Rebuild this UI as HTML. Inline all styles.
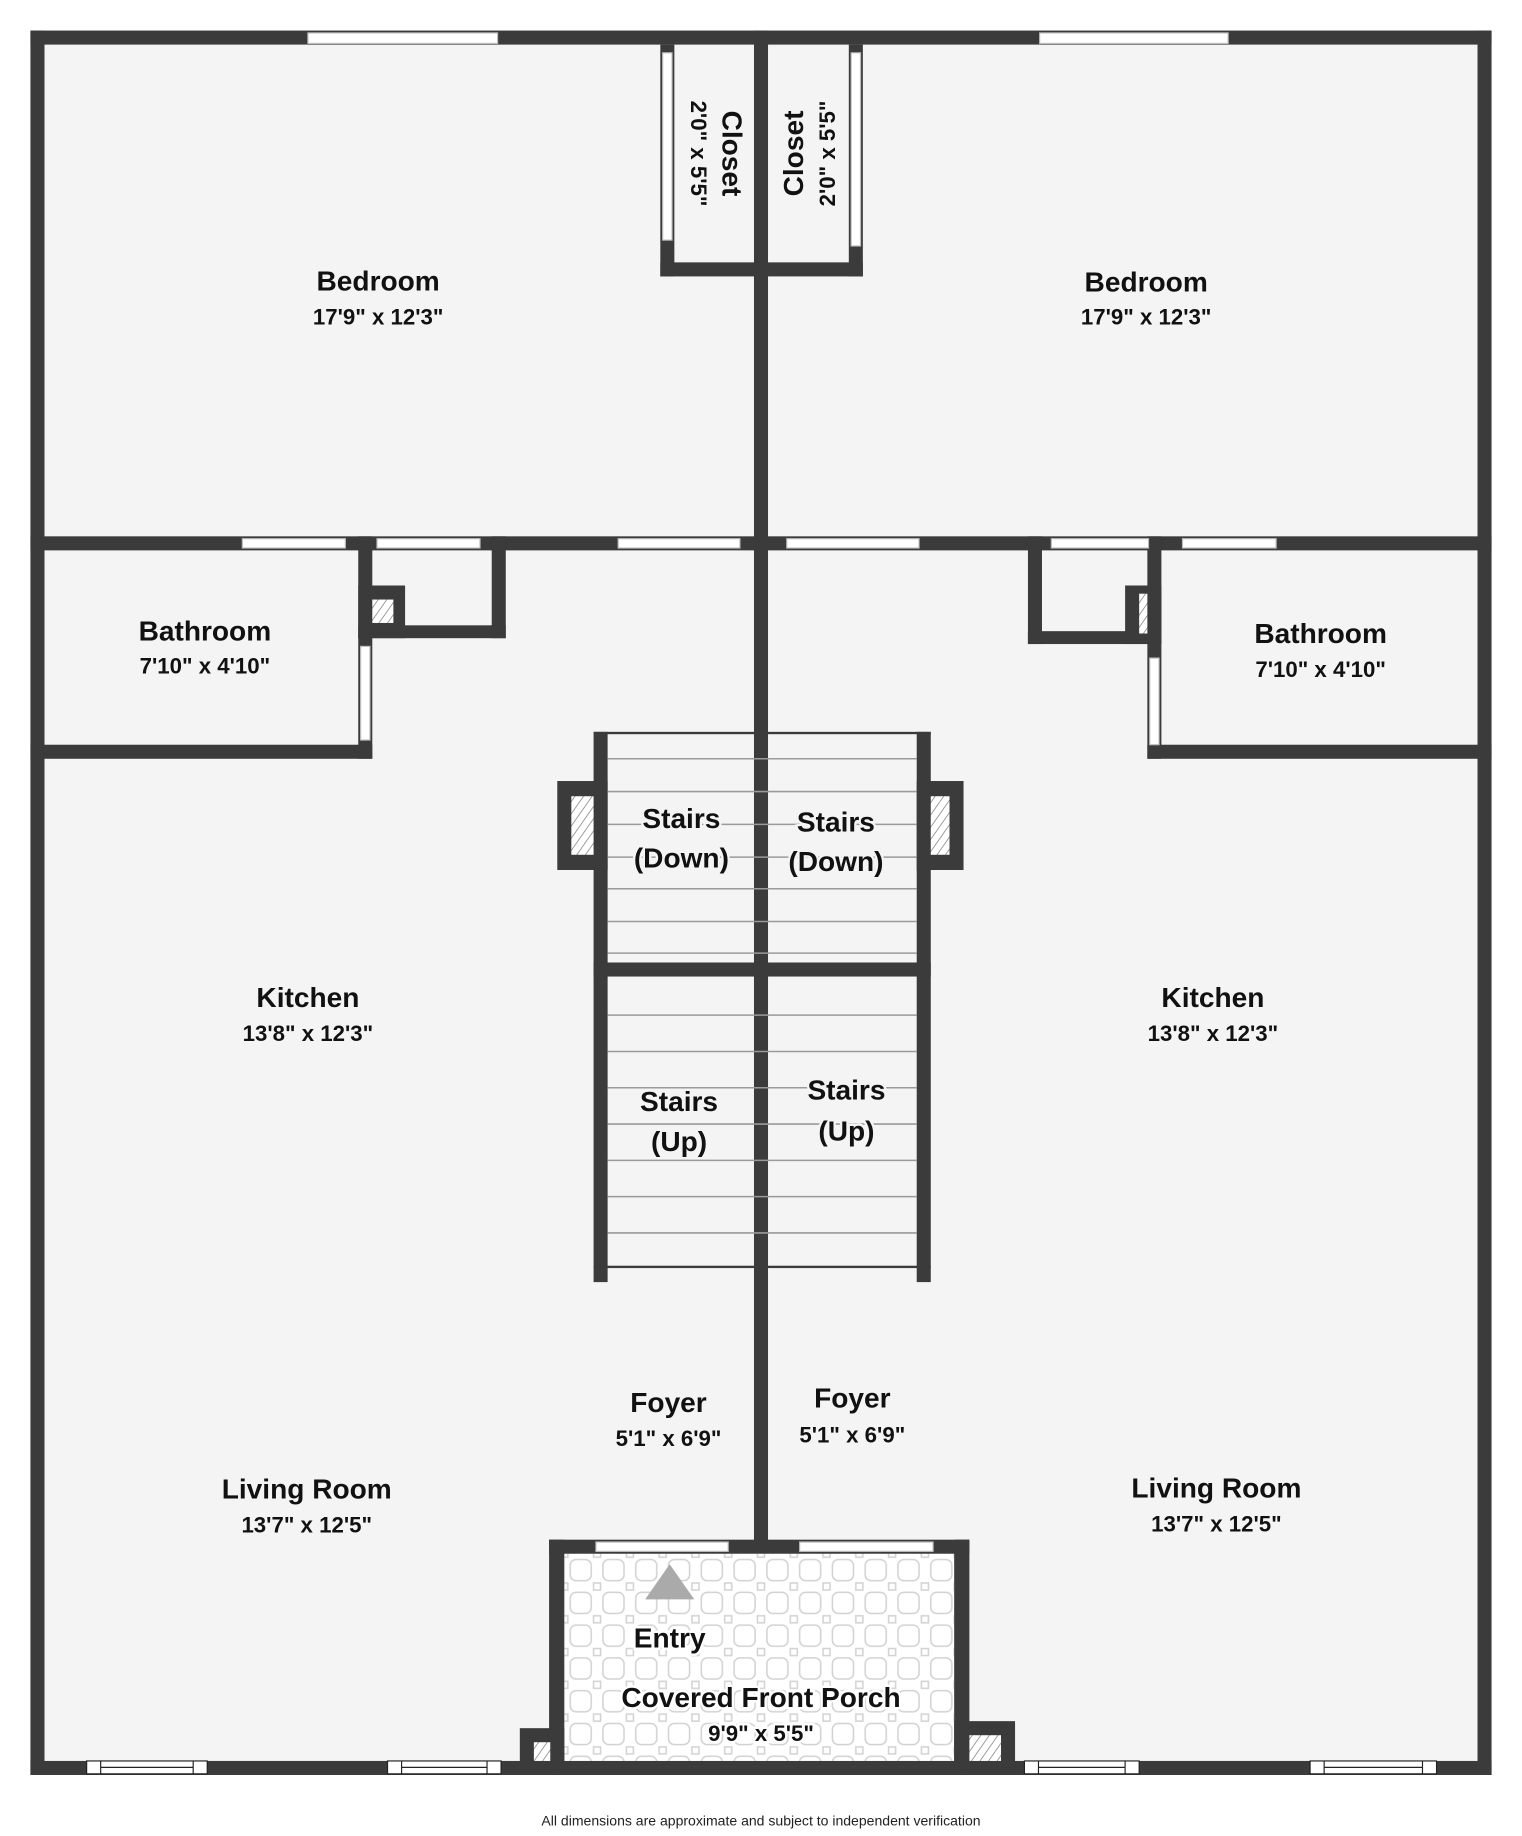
<!DOCTYPE html>
<html><head><meta charset="utf-8"><style>
html,body{margin:0;padding:0;background:#fff;width:1522px;height:1836px;overflow:hidden}
svg{display:block}
.n{font-family:"Liberation Sans",sans-serif;font-weight:bold;font-size:24px;fill:#111;text-anchor:middle;paint-order:stroke;stroke:#f4f4f4;stroke-width:4px}
.d{font-family:"Liberation Sans",sans-serif;font-weight:bold;font-size:19px;fill:#111;text-anchor:middle;paint-order:stroke;stroke:#f4f4f4;stroke-width:4px}
</style></head><body>
<svg width="1522" height="1836" viewBox="0 0 1300 1568" xmlns="http://www.w3.org/2000/svg">
<defs>
<pattern id="h" width="6" height="6" patternUnits="userSpaceOnUse" patternTransform="rotate(35)">
<rect width="6" height="6" fill="#fff"/><line x1="0" y1="0" x2="0" y2="6" stroke="#777" stroke-width="1.2"/></pattern>
<pattern id="t" x="482" y="1327" width="28" height="28" patternUnits="userSpaceOnUse">
<rect width="28" height="28" fill="#fff"/>
<rect x="5" y="5" width="18" height="18" rx="5" fill="#fff" stroke="#d2d2d2" stroke-width="1.3"/>
<rect x="-3" y="-3" width="6" height="6" fill="#fff" stroke="#d2d2d2" stroke-width="1.3"/>
<rect x="25" y="-3" width="6" height="6" fill="#fff" stroke="#d2d2d2" stroke-width="1.3"/>
<rect x="-3" y="25" width="6" height="6" fill="#fff" stroke="#d2d2d2" stroke-width="1.3"/>
<rect x="25" y="25" width="6" height="6" fill="#fff" stroke="#d2d2d2" stroke-width="1.3"/>
</pattern>
</defs>
<g fill="#3b3b3b">
<!-- floor -->
<rect x="26" y="26" width="1248" height="1490" fill="#f4f4f4"/>
<rect x="482" y="1327" width="333" height="189" fill="url(#t)"/>
<!-- outer walls -->
<rect x="26" y="26" width="1248" height="12"/>
<rect x="26" y="26" width="12" height="1490"/>
<rect x="1262" y="26" width="12" height="1490"/>
<rect x="26" y="1504" width="1248" height="12"/>
<!-- center wall -->
<rect x="644" y="26" width="12" height="1294"/>
<!-- closets -->
<rect x="564" y="38" width="12" height="198"/>
<rect x="564" y="224" width="92" height="12"/>
<rect x="725" y="38" width="12" height="198"/>
<rect x="644" y="224" width="93" height="12"/>
<!-- horizontal wall -->
<rect x="26" y="458" width="1248" height="12"/>
<!-- left bath -->
<rect x="306" y="458" width="12" height="190"/>
<rect x="26" y="636" width="292" height="12"/>
<rect x="420" y="458" width="12" height="87"/>
<rect x="306" y="534" width="126" height="11"/>
<rect x="306" y="500" width="40" height="45"/>
<!-- right bath -->
<rect x="980" y="458" width="12" height="190"/>
<rect x="980" y="636" width="294" height="12"/>
<rect x="878" y="458" width="12" height="92"/>
<rect x="878" y="539" width="114" height="11"/>
<rect x="961" y="500" width="31" height="50"/>
<!-- stairs -->
<rect x="507" y="625" width="288" height="2"/>
<rect x="507" y="625" width="12" height="470"/>
<rect x="783" y="625" width="12" height="470"/>
<rect x="507" y="822" width="288" height="12"/>
<rect x="507" y="1081" width="288" height="2"/>
<rect x="476" y="667" width="43" height="76"/>
<rect x="783" y="667" width="40" height="76"/>
<!-- porch -->
<rect x="469" y="1315" width="13" height="201"/>
<rect x="815" y="1315" width="13" height="201"/>
<rect x="469" y="1315" width="359" height="12"/>
<rect x="444" y="1476" width="38" height="40"/>
<rect x="815" y="1470" width="52" height="46"/>
</g>
<!-- hatches -->
<rect x="318" y="512" width="18" height="20" fill="url(#h)"/>
<rect x="973" y="507" width="7" height="34" fill="url(#h)"/>
<rect x="488" y="680" width="19" height="50" fill="url(#h)"/>
<rect x="795" y="680" width="16" height="50" fill="url(#h)"/>
<rect x="456" y="1488" width="14" height="16" fill="url(#h)"/>
<rect x="828" y="1482" width="27" height="22" fill="url(#h)"/>
<!-- stair treads -->
<g stroke="#9a9a9a" stroke-width="1.3">
<line x1="519" x2="783" y1="648" y2="648"/><line x1="519" x2="783" y1="676" y2="676"/>
<line x1="519" x2="783" y1="704" y2="704"/><line x1="519" x2="783" y1="732" y2="732"/>
<line x1="519" x2="783" y1="759" y2="759"/><line x1="519" x2="783" y1="787" y2="787"/>
<line x1="519" x2="783" y1="814" y2="814"/>
<line x1="519" x2="783" y1="867" y2="867"/><line x1="519" x2="783" y1="898" y2="898"/>
<line x1="519" x2="783" y1="929" y2="929"/><line x1="519" x2="783" y1="960" y2="960"/>
<line x1="519" x2="783" y1="991" y2="991"/><line x1="519" x2="783" y1="1022" y2="1022"/>
<line x1="519" x2="783" y1="1053" y2="1053"/>
</g>
<!-- windows / openings -->
<g fill="#fff" stroke="#bbb" stroke-width="1">
<rect x="263" y="28" width="162" height="9"/>
<rect x="888" y="28" width="161" height="9"/>
<rect x="207" y="460" width="88" height="8"/>
<rect x="322" y="460" width="88" height="8"/>
<rect x="528" y="460" width="104" height="8"/>
<rect x="672" y="460" width="113" height="8"/>
<rect x="898" y="460" width="83" height="8"/>
<rect x="1010" y="460" width="80" height="8"/>
<rect x="566" y="45" width="8" height="160"/>
<rect x="727" y="45" width="8" height="165"/>
<rect x="308" y="552" width="8" height="80"/>
<rect x="982" y="562" width="8" height="74"/>
<rect x="509" y="1317" width="113" height="8"/>
<rect x="683" y="1317" width="114" height="8"/>
</g>
<g fill="#fff" stroke="#222" stroke-width="1">
<rect x="74" y="1504" width="103" height="11"/><line x1="86" x2="165" y1="1509.5" y2="1509.5"/><line x1="86" x2="86" y1="1504" y2="1515"/><line x1="165" x2="165" y1="1504" y2="1515"/>
<rect x="331" y="1504" width="97" height="11"/><line x1="343" x2="416" y1="1509.5" y2="1509.5"/><line x1="343" x2="343" y1="1504" y2="1515"/><line x1="416" x2="416" y1="1504" y2="1515"/>
<rect x="875" y="1504" width="98" height="11"/><line x1="887" x2="961" y1="1509.5" y2="1509.5"/><line x1="887" x2="887" y1="1504" y2="1515"/><line x1="961" x2="961" y1="1504" y2="1515"/>
<rect x="1119" y="1504" width="108" height="11"/><line x1="1131" x2="1215" y1="1509.5" y2="1509.5"/><line x1="1131" x2="1131" y1="1504" y2="1515"/><line x1="1215" x2="1215" y1="1504" y2="1515"/>
</g>
<polygon points="572,1336 593,1366 551,1366" fill="#aaa"/>
<!-- labels -->
<text class="n" x="323" y="248">Bedroom</text><text class="d" x="323" y="277">17'9" x 12'3"</text>
<text class="n" x="979" y="249">Bedroom</text><text class="d" x="979" y="277">17'9" x 12'3"</text>
<text class="n" x="175" y="547">Bathroom</text><text class="d" x="175" y="575">7'10" x 4'10"</text>
<text class="n" x="1128" y="549">Bathroom</text><text class="d" x="1128" y="578">7'10" x 4'10"</text>
<text class="n" x="263" y="860">Kitchen</text><text class="d" x="263" y="889">13'8" x 12'3"</text>
<text class="n" x="1036" y="860">Kitchen</text><text class="d" x="1036" y="889">13'8" x 12'3"</text>
<text class="n" x="262" y="1280">Living Room</text><text class="d" x="262" y="1309">13'7" x 12'5"</text>
<text class="n" x="1039" y="1279">Living Room</text><text class="d" x="1039" y="1308">13'7" x 12'5"</text>
<text class="n" x="571" y="1206">Foyer</text><text class="d" x="571" y="1235">5'1" x 6'9"</text>
<text class="n" x="728" y="1202">Foyer</text><text class="d" x="728" y="1232">5'1" x 6'9"</text>
<text class="n" x="582" y="707">Stairs</text><text class="n" x="582" y="741">(Down)</text>
<text class="n" x="714" y="710">Stairs</text><text class="n" x="714" y="744">(Down)</text>
<text class="n" x="580" y="949">Stairs</text><text class="n" x="580" y="983">(Up)</text>
<text class="n" x="723" y="939">Stairs</text><text class="n" x="723" y="974">(Up)</text>
<text class="n" x="572" y="1407" style="stroke:#fff">Entry</text>
<text class="n" x="650" y="1458" style="stroke:#fff">Covered Front Porch</text>
<text class="d" x="650" y="1487" style="stroke:#fff">9'9" x 5'5"</text>
<text class="n" transform="translate(617,131) rotate(90)" y="0">Closet</text>
<text class="d" transform="translate(590,131) rotate(90)">2'0" x 5'5"</text>
<text class="n" transform="translate(686,131) rotate(-90)">Closet</text>
<text class="d" transform="translate(713,131) rotate(-90)">2'0" x 5'5"</text>
<text x="650" y="1559" font-family="Liberation Sans, sans-serif" font-size="12" fill="#222" text-anchor="middle">All dimensions are approximate and subject to independent verification</text>
</svg>
</body></html>
